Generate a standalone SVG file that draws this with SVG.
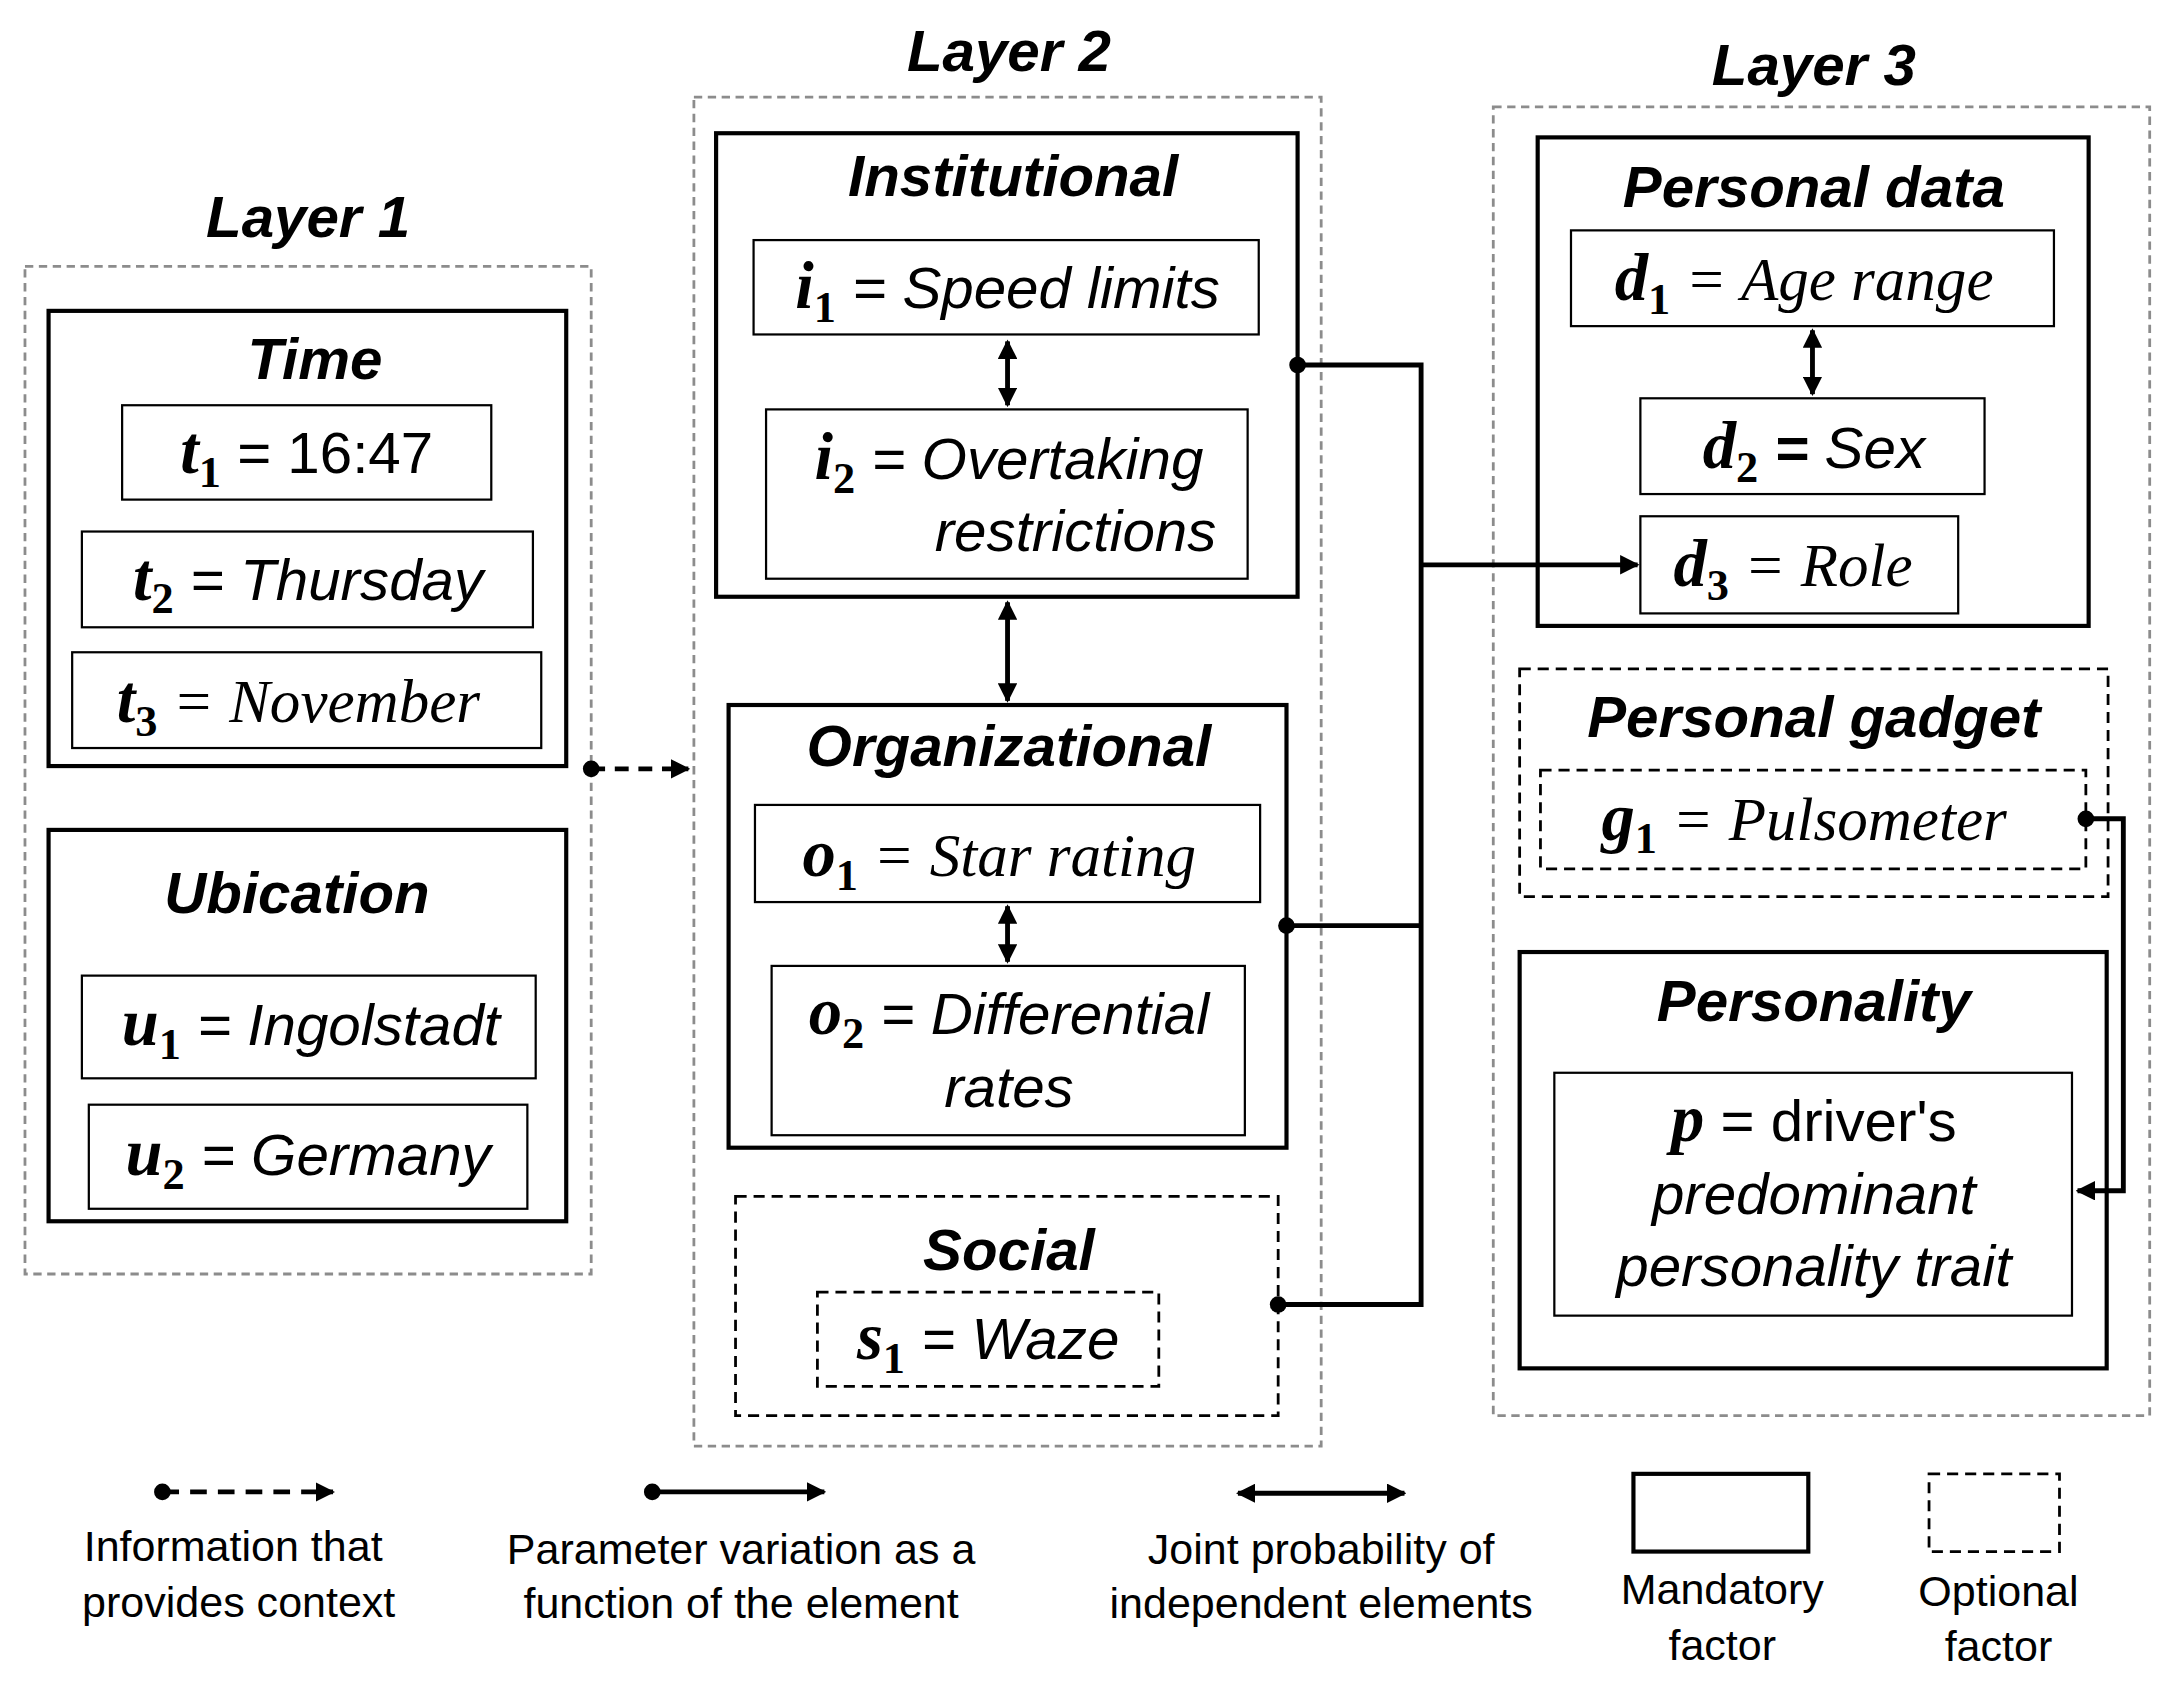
<svg xmlns="http://www.w3.org/2000/svg" width="2176" height="1690" viewBox="0 0 2176 1690">
<defs>
<style>
.lay{fill:none;stroke:#8c8c8c;stroke-width:2;stroke-dasharray:6 4}
.box{fill:#fff;stroke:#000;stroke-width:3}
.ibox{fill:#fff;stroke:#000;stroke-width:1.6}
.opt{fill:#fff;stroke:#000;stroke-width:2;stroke-dasharray:8 5}
.ttl{font-family:"Liberation Sans",Arial,sans-serif;font-weight:bold;font-style:italic;font-size:42px;text-anchor:middle}
.t{font-family:"Liberation Sans",Arial,sans-serif;font-size:42px;text-anchor:middle}
.it{font-style:italic}
.v{font-family:"Liberation Serif","DejaVu Serif",serif;font-weight:bold;font-style:italic;font-size:48px}
.sub{font-family:"Liberation Serif",serif;font-weight:bold;font-style:normal;font-size:32px}
.sv{font-family:"Liberation Serif",serif;font-style:italic;font-size:44px}
.lg{font-family:"Liberation Sans",Arial,sans-serif;font-size:31px;text-anchor:middle}
.ln{fill:none;stroke:#000;stroke-width:3.5}
</style>
<marker id="ah" viewBox="0 0 10 10" refX="9" refY="5" markerWidth="4" markerHeight="4" orient="auto-start-reverse"><path d="M0,0L10,5L0,10z" fill="#000"/></marker>
</defs>
<g transform="scale(1.3878)">
<g id="layer1">
<text class="ttl" x="222" y="171">Layer 1</text>
<rect class="lay" x="18" y="192" width="408" height="726"/>
</g>
<g id="time">
<rect class="box" x="35" y="224" width="373" height="328"/>
<text class="ttl" x="227" y="273">Time</text>
<rect class="ibox" x="88" y="292" width="266" height="68"/>
<text class="t" x="221" y="341"><tspan class="v">t</tspan><tspan class="sub" dy="10">1</tspan><tspan dy="-10"> = 16:47</tspan></text>
<rect class="ibox" x="59" y="383" width="325" height="69"/>
<text class="t" x="222" y="432"><tspan class="v">t</tspan><tspan class="sub" dy="10">2</tspan><tspan dy="-10" class="it"> = Thursday</tspan></text>
<rect class="ibox" x="52" y="470" width="338" height="69"/>
<text class="t" x="215" y="520"><tspan class="v">t</tspan><tspan class="sub" dy="10">3</tspan><tspan dy="-10" class="sv"> = November</tspan></text>
</g>
<g id="ubication">
<rect class="box" x="35" y="598" width="373" height="282"/>
<text class="ttl" x="214" y="658">Ubication</text>
<rect class="ibox" x="59" y="703" width="327" height="74"/>
<text class="t" x="224" y="753"><tspan class="v">u</tspan><tspan class="sub" dy="10">1</tspan><tspan dy="-10" class="it"> = Ingolstadt</tspan></text>
<rect class="ibox" x="64" y="796" width="316" height="75"/>
<text class="t" x="222" y="847"><tspan class="v">u</tspan><tspan class="sub" dy="10">2</tspan><tspan dy="-10" class="it"> = Germany</tspan></text>
</g>
<g id="layer2">
<text class="ttl" x="727" y="51">Layer 2</text>
<rect class="lay" x="500" y="70" width="452" height="972"/>
</g>
<g id="institutional">
<rect class="box" x="516" y="96" width="419" height="334"/>
<text class="ttl" x="730" y="141">Institutional</text>
<rect class="ibox" x="543" y="173" width="364" height="68"/>
<text class="t" x="726" y="222"><tspan class="v">i</tspan><tspan class="sub" dy="10">1</tspan><tspan dy="-10" class="it"> = Speed limits</tspan></text>
<rect class="ibox" x="552" y="295" width="347" height="122"/>
<text class="t" x="727" y="345"><tspan class="v">i</tspan><tspan class="sub" dy="10">2</tspan><tspan dy="-10" class="it"> = Overtaking</tspan></text>
<text class="t it" x="775" y="397">restrictions</text>
</g>
<g id="organizational">
<rect class="box" x="525" y="508" width="402" height="319"/>
<text class="ttl" x="727" y="552">Organizational</text>
<rect class="ibox" x="544" y="580" width="364" height="70"/>
<text class="t" x="720" y="631"><tspan class="v">o</tspan><tspan class="sub" dy="10">1</tspan><tspan dy="-10" class="sv"> = Star rating</tspan></text>
<rect class="ibox" x="556" y="696" width="341" height="122"/>
<text class="t" x="727" y="745"><tspan class="v">o</tspan><tspan class="sub" dy="10">2</tspan><tspan dy="-10" class="it"> = Differential</tspan></text>
<text class="t it" x="727" y="798">rates</text>
</g>
<g id="social">
<rect class="opt" x="530" y="862" width="391" height="158"/>
<text class="ttl" x="727" y="915">Social</text>
<rect class="opt" x="589" y="931" width="246" height="68"/>
<text class="t" x="712" y="979"><tspan class="v">s</tspan><tspan class="sub" dy="10">1</tspan><tspan dy="-10" class="it"> = Waze</tspan></text>
</g>
<g id="layer3">
<text class="ttl" x="1307" y="61">Layer 3</text>
<rect class="lay" x="1076" y="77" width="473" height="943"/>
</g>
<g id="personaldata">
<rect class="box" x="1108" y="99" width="397" height="352"/>
<text class="ttl" x="1307" y="149">Personal data</text>
<rect class="ibox" x="1132" y="166" width="348" height="69"/>
<text class="t" x="1300" y="216"><tspan class="v">d</tspan><tspan class="sub" dy="10">1</tspan><tspan dy="-10" class="sv"> = Age range</tspan></text>
<rect class="ibox" x="1182" y="287" width="248" height="69"/>
<text class="t" x="1307" y="337"><tspan class="v">d</tspan><tspan class="sub" dy="10">2</tspan><tspan dy="-10" class="it"><tspan font-weight="bold"> =</tspan> Sex</tspan></text>
<rect class="ibox" x="1182" y="372" width="229" height="70"/>
<text class="t" x="1292" y="422"><tspan class="v">d</tspan><tspan class="sub" dy="10">3</tspan><tspan dy="-10" class="sv"> = Role</tspan></text>
</g>
<g id="gadget">
<rect class="opt" x="1095" y="482" width="424" height="164"/>
<text class="ttl" x="1307" y="531">Personal gadget</text>
<rect class="opt" x="1110" y="555" width="393" height="71"/>
<text class="t" x="1300" y="605"><tspan class="v">g</tspan><tspan class="sub" dy="10">1</tspan><tspan dy="-10" class="sv"> = Pulsometer</tspan></text>
</g>
<g id="personality">
<rect class="box" x="1095" y="686" width="423" height="300"/>
<text class="ttl" x="1307" y="736">Personality</text>
<rect class="ibox" x="1120" y="773" width="373" height="175"/>
<text class="t" x="1307" y="822"><tspan class="v">p</tspan> = driver's</text>
<text class="t it" x="1307" y="875">predominant</text>
<text class="t it" x="1307" y="927">personality trait</text>
</g>
<g id="connectors">
<circle cx="426" cy="554" r="6"/>
<line class="ln" x1="426" y1="554" x2="496" y2="554" stroke-dasharray="10 7" marker-end="url(#ah)"/>
<line class="ln" x1="726" y1="246" x2="726" y2="292" marker-start="url(#ah)" marker-end="url(#ah)"/>
<line class="ln" x1="726" y1="434" x2="726" y2="505" marker-start="url(#ah)" marker-end="url(#ah)"/>
<line class="ln" x1="726" y1="653" x2="726" y2="693" marker-start="url(#ah)" marker-end="url(#ah)"/>
<line class="ln" x1="1306" y1="238" x2="1306" y2="284" marker-start="url(#ah)" marker-end="url(#ah)"/>
<circle cx="935" cy="263" r="6"/><circle cx="927" cy="667" r="6"/><circle cx="921" cy="940" r="6"/>
<path class="ln" d="M935,263H1024V940H921M927,667H1024"/>
<line class="ln" x1="1024" y1="407" x2="1180" y2="407" marker-end="url(#ah)"/>
<circle cx="1503" cy="590" r="6"/>
<path class="ln" d="M1503,590H1530V858H1497" marker-end="url(#ah)"/>
</g>
<g id="legend">
<circle cx="117" cy="1075" r="6"/>
<line class="ln" x1="117" y1="1075" x2="240" y2="1075" stroke-dasharray="12 8" marker-end="url(#ah)"/>
<text class="lg" x="168" y="1125">Information that</text>
<text class="lg" x="172" y="1165">provides context</text>
<circle cx="470" cy="1075" r="6"/>
<line class="ln" x1="470" y1="1075" x2="594" y2="1075" marker-end="url(#ah)"/>
<text class="lg" x="534" y="1127">Parameter variation as a</text>
<text class="lg" x="534" y="1166">function of the element</text>
<line class="ln" x1="892" y1="1076" x2="1012" y2="1076" marker-start="url(#ah)" marker-end="url(#ah)"/>
<text class="lg" x="952" y="1127">Joint probability of</text>
<text class="lg" x="952" y="1166">independent elements</text>
<rect class="box" x="1177" y="1062" width="126" height="56"/>
<text class="lg" x="1241" y="1156">Mandatory</text>
<text class="lg" x="1241" y="1196">factor</text>
<rect class="opt" x="1390" y="1062" width="94" height="56"/>
<text class="lg" x="1440" y="1157">Optional</text>
<text class="lg" x="1440" y="1197">factor</text>
</g>
</g>
</svg>
